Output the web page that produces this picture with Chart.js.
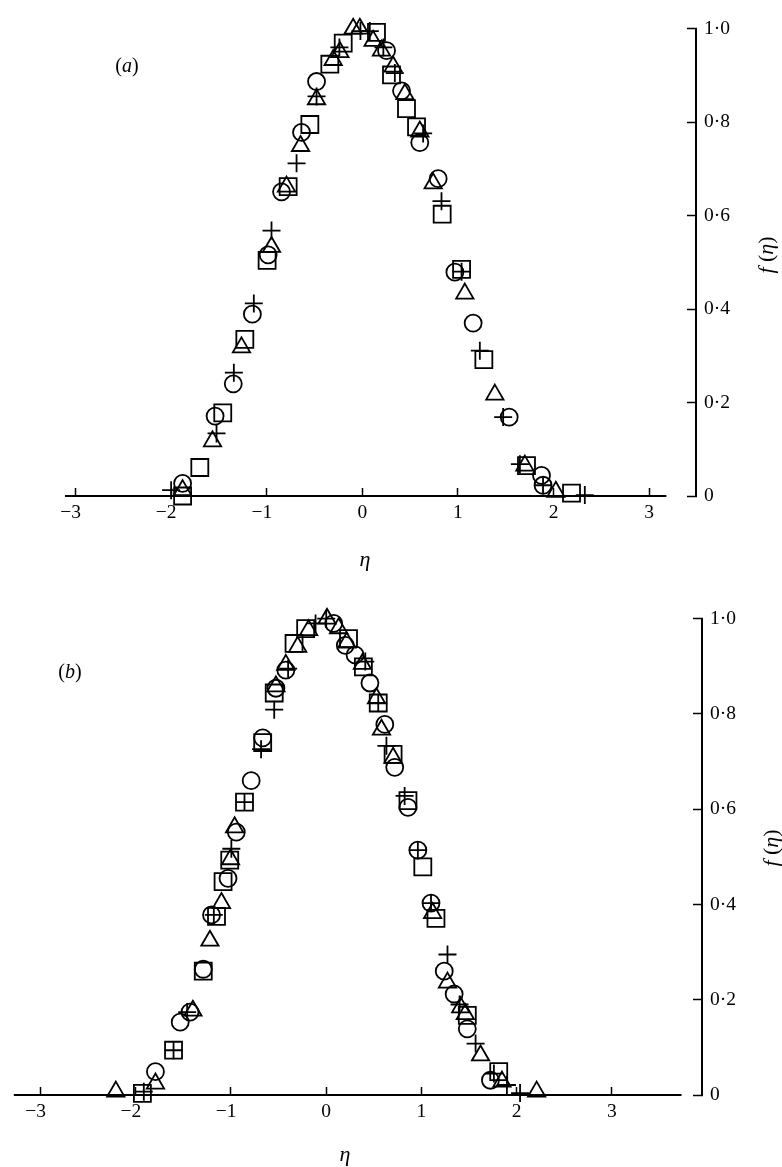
<!DOCTYPE html>
<html>
<head>
<meta charset="utf-8">
<script src="https://cdn.jsdelivr.net/npm/chart.js@4.4.1/dist/chart.umd.min.js"></script>
<style>
  html, body { margin: 0; padding: 0; background: #fff; }
  body { width: 782px; height: 1167px; position: relative; overflow: hidden; }
  canvas { position: absolute; left: 0; }
  #chart-a { top: 0; }
  #chart-b { top: 590px; }
</style>
</head>
<body>
<canvas id="chart-a" width="782" height="590"></canvas>
<canvas id="chart-b" width="782" height="577"></canvas>
<script>
// tick values and labels (shared by both panels)
const xTicks = [-3, -2, -1, 0, 1, 2, 3];
const xTickLabels = ['\u22123', '\u22122', '\u22121', '0', '1', '2', '3'];
const yTicks = [0, 0.2, 0.4, 0.6, 0.8, 1.0];
const yTickLabels = ['0', '0\u00b72', '0\u00b74', '0\u00b76', '0\u00b78', '1\u00b70'];

// panel (a)
const aCircleX = [-1.88, -1.54, -1.35, -1.15, -0.985, -0.845, -0.636, -0.479, 0.253, 0.41, 0.601, 0.793, 0.968, 1.159, 1.536, 1.874, 1.89];
const aCircleY = [0.027, 0.171, 0.240, 0.389, 0.516, 0.651, 0.778, 0.887, 0.953, 0.867, 0.756, 0.679, 0.479, 0.370, 0.169, 0.044, 0.023];
const aSquareX = [-1.88, -1.70, -1.46, -1.229, -0.996, -0.776, -0.549, -0.34, -0.2, 0.148, 0.305, 0.462, 0.567, 0.835, 1.038, 1.271, 1.717, 2.188];
const aSquareY = [0.0, 0.061, 0.178, 0.335, 0.504, 0.662, 0.795, 0.924, 0.969, 0.992, 0.901, 0.829, 0.79, 0.603, 0.485, 0.292, 0.065, 0.006];
const aTriX = [-1.88, -1.567, -1.264, -0.95, -0.793, -0.646, -0.479, -0.305, -0.235, -0.096, -0.026, 0.113, 0.2, 0.322, 0.445, 0.601, 0.741, 1.072, 1.386, 1.70, 2.024];
const aTriY = [0.0125, 0.117, 0.318, 0.533, 0.662, 0.749, 0.849, 0.933, 0.95, 1.0, 1.0, 0.974, 0.953, 0.919, 0.86, 0.78, 0.669, 0.433, 0.217, 0.065, 0.009];
const aPlusX = [-2.0, -1.525, -1.344, -1.135, -0.95, -0.688, -0.479, -0.24, -0.02, 0.078, 0.22, 0.34, 0.636, 0.828, 1.038, 1.229, 1.473, 1.648, 1.89, 2.327];
const aPlusY = [0.0125, 0.134, 0.264, 0.412, 0.568, 0.712, 0.855, 0.96, 0.995, 0.995, 0.96, 0.905, 0.776, 0.631, 0.48, 0.311, 0.169, 0.068, 0.023, 0.002];

// panel (b)
const bCircleX = [-1.793, -1.533, -1.43, -1.291, -1.204, -1.031, -0.944, -0.788, -0.667, -0.528, -0.424, 0.078, 0.2, 0.303, 0.459, 0.615, 0.719, 0.858, 0.962, 1.10, 1.239, 1.343, 1.481, 1.724];
const bCircleY = [0.049, 0.153, 0.174, 0.264, 0.378, 0.455, 0.552, 0.660, 0.75, 0.854, 0.892, 0.99, 0.944, 0.924, 0.865, 0.778, 0.688, 0.604, 0.514, 0.403, 0.26, 0.212, 0.139, 0.031];
const bSquareX = [-1.93, -1.603, -1.291, -1.152, -1.083, -1.013, -0.858, -0.667, -0.546, -0.338, -0.216, 0.234, 0.39, 0.546, 0.702, 0.858, 1.014, 1.152, 1.481, 1.811];
const bSquareY = [0.0035, 0.094, 0.26, 0.375, 0.448, 0.493, 0.615, 0.74, 0.844, 0.948, 0.979, 0.958, 0.899, 0.823, 0.715, 0.618, 0.479, 0.371, 0.167, 0.049];
const bTriX = [-2.209, -1.793, -1.40, -1.221, -1.10, -1.005, -0.962, -0.528, -0.424, -0.30, -0.185, 0.008, 0.13, 0.215, 0.38, 0.528, 0.58, 0.702, 1.117, 1.273, 1.412, 1.46, 1.62, 1.845, 2.209];
const bTriY = [0.007, 0.024, 0.177, 0.324, 0.403, 0.495, 0.562, 0.858, 0.903, 0.941, 0.976, 1.0, 0.98, 0.95, 0.905, 0.833, 0.767, 0.708, 0.382, 0.236, 0.184, 0.17, 0.083, 0.028, 0.007];
const bPlusX = [-1.915, -1.603, -1.46, -1.18, -0.996, -0.858, -0.684, -0.546, -0.40, -0.112, 0.0, 0.41, 0.546, 0.632, 0.823, 0.962, 1.10, 1.273, 1.40, 1.568, 1.76, 1.897, 2.035];
const bPlusY = [0.007, 0.094, 0.174, 0.378, 0.517, 0.615, 0.726, 0.809, 0.895, 0.99, 1.0, 0.91, 0.823, 0.733, 0.628, 0.514, 0.403, 0.295, 0.19, 0.108, 0.045, 0.021, 0.004];

// extent of the drawn eta axis line in each panel
const aAxisSpan = [-3.11, 3.18];
const bAxisSpan = [-3.28, 3.73];

const SERIF = "'Liberation Serif', 'DejaVu Serif', serif";

function pts(xs, ys) {
    return xs.map((x, i) => ({ x: x, y: ys[i] }));
}

function markers(style, radius, xs, ys) {
    return {
        data: pts(xs, ys),
        pointStyle: style,
        pointRadius: radius,
        pointBorderColor: '#000',
        pointBackgroundColor: 'rgba(0,0,0,0)',
        pointBorderWidth: 1.8,
        showLine: false,
        clip: false
    };
}

// text pieces: [string, italic?]
function drawRich(ctx, parts, x, y, angle, size) {
    ctx.save();
    ctx.translate(x, y);
    ctx.rotate(angle);
    ctx.fillStyle = '#000';
    ctx.textBaseline = 'middle';
    ctx.textAlign = 'left';
    let widths = parts.map(p => {
        ctx.font = (p[1] ? 'italic ' : '') + size + 'px ' + SERIF;
        return ctx.measureText(p[0]).width;
    });
    let total = widths.reduce((a, b) => a + b, 0);
    let cx = -total / 2;
    parts.forEach((p, i) => {
        ctx.font = (p[1] ? 'italic ' : '') + size + 'px ' + SERIF;
        ctx.fillText(p[0], cx, 0);
        cx += widths[i];
    });
    ctx.restore();
}

function makePanel(id, opts) {
    const ctx = document.getElementById(id).getContext('2d');
    const labelsPlugin = {
        id: 'panelLabels',
        afterDraw(chart) {
            const c = chart.ctx;
            drawRich(c, [['(', false], [opts.letter, true], [')', false]], opts.letterPos[0], opts.letterPos[1], 0, 20);
            drawRich(c, [['\u03b7', true]], opts.etaPos[0], opts.etaPos[1], 0, 22);
            drawRich(c, [['f', true], [' (', false], ['\u03b7', true], [')', false]], opts.fPos[0], opts.fPos[1], -Math.PI / 2, 22);
        }
    };

    return new Chart(ctx, {
        type: 'scatter',
        data: {
            datasets: [
                {
                    data: [{ x: opts.axisSpan[0], y: 0 }, { x: opts.axisSpan[1], y: 0 }],
                    showLine: true,
                    borderColor: '#000',
                    borderWidth: 2,
                    pointRadius: 0,
                    clip: false
                },
                markers('circle', 8.5, opts.circleX, opts.circleY),
                markers('rect', 12, opts.squareX, opts.squareY),
                markers('triangle', 10, opts.triX, opts.triY),
                markers('cross', 9, opts.plusX, opts.plusY)
            ]
        },
        options: {
            responsive: false,
            animation: false,
            events: [],
            layout: { padding: { left: opts.left, top: opts.top, right: 0, bottom: 0 } },
            plugins: { legend: { display: false }, tooltip: { enabled: false } },
            scales: {
                x: {
                    type: 'linear',
                    position: 'bottom',
                    min: opts.xMin,
                    max: opts.xMax,
                    afterBuildTicks: s => { s.ticks = xTicks.map(v => ({ value: v })); },
                    afterFit: s => { s.height = opts.xHeight; },
                    border: { display: false },
                    grid: {
                        drawOnChartArea: false,
                        drawTicks: true,
                        tickLength: -8,
                        tickWidth: 1.5,
                        tickColor: '#000'
                    },
                    ticks: {
                        autoSkip: false,
                        maxRotation: 0,
                        padding: 13,
                        color: '#000',
                        font: { family: SERIF, size: 19.5 },
                        callback: (v, i) => xTickLabels[i] + (xTicks[i] < 0 ? '\u2002' : '')
                    }
                },
                y: {
                    type: 'linear',
                    position: 'right',
                    min: 0,
                    max: 1,
                    afterBuildTicks: s => { s.ticks = yTicks.map(v => ({ value: v })); },
                    afterFit: s => { s.width = opts.yWidth; },
                    border: { display: true, color: '#000', width: 2 },
                    grid: {
                        drawOnChartArea: false,
                        drawTicks: true,
                        tickLength: -9,
                        tickWidth: 1.5,
                        tickColor: '#000'
                    },
                    ticks: {
                        padding: 17,
                        color: '#000',
                        font: { family: SERIF, size: 19.5 },
                        callback: (v, i) => yTickLabels[i]
                    }
                }
            }
        },
        plugins: [labelsPlugin]
    });
}

makePanel('chart-a', {
    letter: 'a', letterPos: [127, 67], etaPos: [365, 560], fPos: [767, 255],
    left: 65, top: 15, xHeight: 94, yWidth: 86, xMin: -3.11, xMax: 3.49,
    axisSpan: aAxisSpan,
    circleX: aCircleX, circleY: aCircleY, squareX: aSquareX, squareY: aSquareY,
    triX: aTriX, triY: aTriY, plusX: aPlusX, plusY: aPlusY
});

makePanel('chart-b', {
    letter: 'b', letterPos: [70, 83], etaPos: [345, 565], fPos: [772, 258],
    left: 7, top: 25, xHeight: 72, yWidth: 80, xMin: -3.28, xMax: 3.945,
    axisSpan: bAxisSpan,
    circleX: bCircleX, circleY: bCircleY, squareX: bSquareX, squareY: bSquareY,
    triX: bTriX, triY: bTriY, plusX: bPlusX, plusY: bPlusY
});
</script>
</body>
</html>
